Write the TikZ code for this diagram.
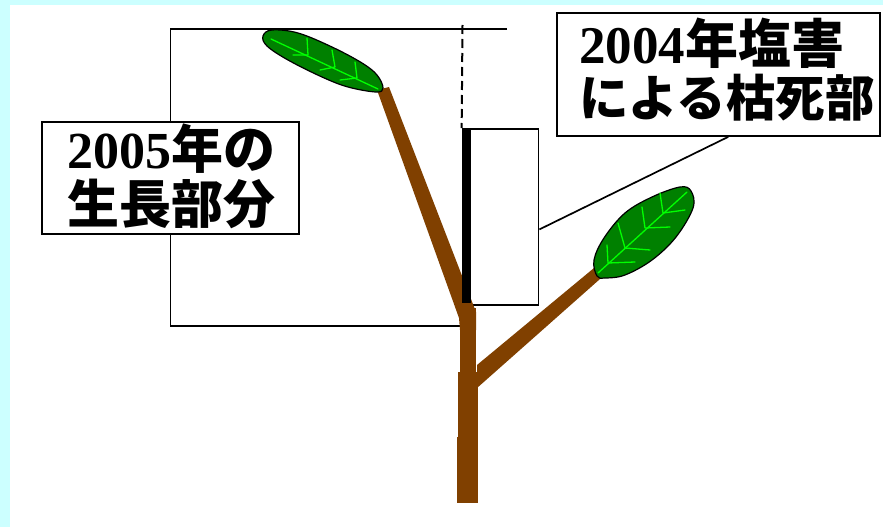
\documentclass[tikz,border=0pt]{standalone}
\usepackage{fontspec}
\usetikzlibrary{calc}
\newfontfamily\jpfont{Noto Sans CJK JP}
\newfontfamily\numfont{Liberation Serif}
\newcommand\yr[1]{{\numfont\bfseries #1}}
\definecolor{bgcyan}{RGB}{204,255,255}
\definecolor{bark}{RGB}{128,64,0}
\definecolor{leafgreen}{RGB}{0,128,0}
\definecolor{veingreen}{RGB}{0,255,0}
\tikzset{
  thin line/.style={line width=1.7pt, black},
  labelbox/.style={draw, thin line, fill=white, inner sep=0pt},
  labeltext/.style={inner sep=0pt, align=left, anchor=west,
    font=\jpfont\bfseries\fontsize{52}{55}\selectfont},
  leaf/.style={fill=leafgreen, draw=black, line width=1.2pt},
  vein/.style={draw=veingreen, line width=1.3pt, line cap=round, line join=round},
  dashline/.style={line width=2pt, black, dash pattern=on 9pt off 5pt}
}
\begin{document}
\begin{tikzpicture}[x=1pt, y=-1pt]
  % background with the cyan frame on the left and top
  \fill[bgcyan] (0,0) rectangle (883,527);
  \fill[white] (10,5) rectangle (883,527);
  \useasboundingbox (0,0) rectangle (883,527);

  % label boxes
  \node[labelbox, minimum width=257pt, minimum height=112pt] (box1) at (170.5,178) {};
  \node[labelbox, minimum width=323pt, minimum height=123pt] (box3) at (718.5,74.5) {};
  \node[draw, thin line, inner sep=0pt, minimum width=76pt, minimum height=176pt] (deadbox) at (500.5,217) {};

  % bracket marking the growth of 2005 (drawn behind box1)
  \coordinate (brt) at (507,29);
  \coordinate (brb) at (460,326);
  \draw[thin line] (brt) -- (brt -| box1.center) -- (box1.north -| box1.center);
  \draw[thin line] (box1.south) -- (brb -| box1.center) -- (brb);

  % dashed guide above the dead part
  \coordinate (dtop) at (462.5,25);
  \draw[dashline] (dtop) -- (deadbox.north west);

  % connector from the dead-part box to its label
  \draw[thin line] ($(deadbox.north east)!0.57!(deadbox.south east)$)
    -- ($(box3.south west)!0.53!(box3.south east)$);

  % trunk
  \fill[bark] (460,308) rectangle (476,372);
  \fill[bark] (458,372) rectangle (478,437);
  \fill[bark] (457,437) rectangle (478,503);
  % left branch (growth of 2005)
  \fill[bark] (377,90) -- (389,87) -- (476,312) -- (476,330) -- (460,330) -- (459,318) -- cycle;
  % right branch
  \fill[bark] (477,365) -- (594,268) -- (600,279) -- (477,388) -- cycle;

  % dead part of 2004
  \node[fill=black, inner sep=0pt, minimum width=9pt, minimum height=175pt,
        anchor=north west] (bar) at (deadbox.north west) {};

  % upper leaf
  \filldraw[leaf] plot[smooth cycle, tension=0.6] coordinates {
    (263,36) (272,30) (298,33) (332,47) (362,63) (377,75) (383,88)
    (376,92) (348,87) (322,77) (288,60) (267,46)};
  \draw[vein] (271,39) -- (378,89);
  \draw[vein] (307,38) -- (308,55) -- (293,55);
  \draw[vein] (332,50) -- (335,67) -- (320,70);
  \draw[vein] (355,62) -- (357,78) -- (340,80);

  % lower right leaf
  \filldraw[leaf] plot[smooth cycle, tension=0.6] coordinates {
    (597,276) (594,260) (604,238) (625,213) (652,197) (680,187) (691,191)
    (693,208) (676,237) (652,260) (625,275) (605,278)};
  \draw[vein] (598,273) -- (687,192);
  \draw[vein] (607,245) -- (608,263) -- (635,262);
  \draw[vein] (618,223) -- (625,248) -- (650,250);
  \draw[vein] (642,207) -- (645,228) -- (670,227);
  \draw[vein] (660,193) -- (663,213) -- (685,210);

  % label texts
  \node[labeltext] (txt1) at (67,176) {\yr{2005}年の\\生長部分};
  \node[labeltext, font=\jpfont\bfseries\fontsize{53}{53}\selectfont] (txt3) at (579,70)
    {\yr{2004}年塩害\\{\fontsize{49.5}{53}\selectfont による枯死部}};
\end{tikzpicture}
\end{document}
